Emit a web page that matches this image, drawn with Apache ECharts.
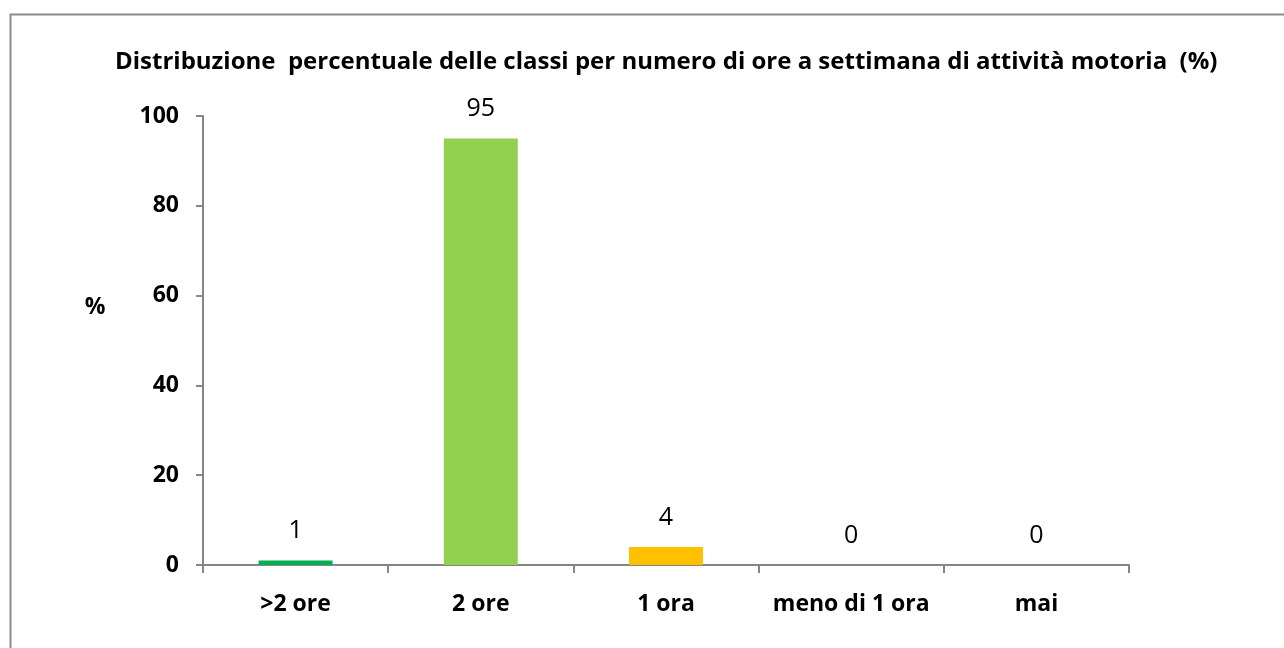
<!DOCTYPE html>
<html>
<head>
<meta charset="utf-8">
<script src="https://cdn.jsdelivr.net/npm/echarts@6/dist/echarts.min.js"></script>
<style>
  html, body { margin: 0; padding: 0; background: #fff; }
  #chart { width: 1284px; height: 648px; }
</style>
</head>
<body>
<div id="chart"></div>
<script>
// data
const categories = ['>2 ore', '2 ore', '1 ora', 'meno di 1 ora', 'mai'];
const values = [1, 95, 4, 0, 0];
const barColors = ['#00B050', '#92D050', '#FFC000', '#92D050', '#92D050'];
const titleText = 'Distribuzione  percentuale delle classi per numero di ore a settimana di attività motoria  (%)';
const yName = '%';

const font = '"Open Sans", "Noto Sans", sans-serif';
const axisGray = '#868686';

let chart = echarts.init(document.getElementById('chart'));

let option = {
  backgroundColor: '#fff',
  textStyle: { fontFamily: font },
  graphic: [
    {
      // outer chart frame (only top/left edges visible in the picture)
      type: 'rect',
      left: 8,
      top: 12,
      shape: { width: 1400, height: 800 },
      style: { fill: 'none', stroke: '#8c8c8c', lineWidth: 2 },
      silent: true
    },
    {
      // y axis name, sits above the axis middle like in the reference
      type: 'text',
      x: 95,
      y: 307,
      style: {
        text: yName,
        fill: '#000',
        font: 'bold 23px ' + font,
        textAlign: 'center',
        textVerticalAlign: 'middle'
      },
      silent: true
    }
  ],
  title: {
    text: titleText,
    left: 110,
    top: 45,
    textStyle: {
      fontFamily: font,
      fontWeight: 'bold',
      fontSize: 24,
      color: '#000'
    }
  },
  grid: {
    left: 203,
    right: 155,
    top: 116,
    bottom: 83,
    containLabel: false
  },
  xAxis: {
    type: 'category',
    data: categories,
    boundaryGap: true,
    axisLine: { lineStyle: { color: axisGray, width: 2 } },
    axisTick: { show: true, length: 8, alignWithLabel: false, lineStyle: { color: axisGray, width: 2 } },
    axisLabel: {
      margin: 28,
      color: '#000',
      fontWeight: 'bold',
      fontSize: 23,
      fontFamily: font,
      interval: 0
    }
  },
  yAxis: {
    type: 'value',
    min: 0,
    max: 100,
    interval: 20,
    axisLine: { show: true, lineStyle: { color: axisGray, width: 2 } },
    axisTick: { show: true, length: 7, lineStyle: { color: axisGray, width: 2 } },
    splitLine: { show: false },
    axisLabel: {
      margin: 24,
      color: '#000',
      fontWeight: 'bold',
      fontSize: 23,
      fontFamily: font
    }
  },
  series: [
    {
      type: 'bar',
      barWidth: 74,
      data: values.map((v, i) => ({ value: v, itemStyle: { color: barColors[i] } })),
      label: {
        show: true,
        position: 'top',
        distance: 17,
        color: '#000',
        fontSize: 25,
        fontFamily: font
      },
      silent: true
    }
  ]
};

chart.setOption(option);

window.onresize = () => {
  chart.resize();
};
</script>
</body>
</html>
